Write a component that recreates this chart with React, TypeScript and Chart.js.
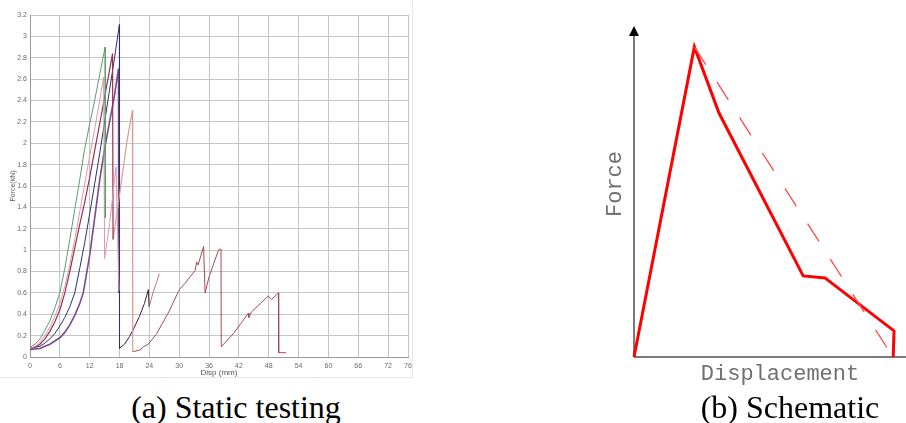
import React, { useEffect, useRef } from "react";
import { Chart, registerables } from "chart.js";
Chart.register(...registerables);

// ---------- (a) Static testing data ----------
const xTickValues = [0, 6, 12, 18, 24, 30, 36, 42, 48, 54, 60, 66, 72, 76];
const dispMax = 76;
const forceMax = 3.2;

const greenX = [0, 1, 2, 3, 4, 5, 6, 7, 8, 9, 10, 11, 12, 13, 14, 15.1, 15.15];
const greenY = [0.09, 0.12, 0.17, 0.25, 0.34, 0.46, 0.6, 0.83, 1.1, 1.38, 1.66, 1.95, 2.18, 2.4, 2.64, 2.9, 1.3];

const pinkX = [0, 1, 2, 3, 4, 5, 6, 7, 8, 9, 10, 11, 12, 13, 14, 14.8, 15.0, 16.0, 17.3, 17.9];
const pinkY = [0.08, 0.1, 0.14, 0.2, 0.28, 0.38, 0.5, 0.66, 0.86, 1.1, 1.36, 1.62, 1.88, 2.13, 2.4, 2.62, 0.92, 1.25, 1.78, 0.62];

const maroonX = [0, 1, 2, 3, 4, 5, 6, 7, 8, 9, 10, 11, 12, 13, 14, 15, 16.6, 16.7];
const maroonY = [0.08, 0.09, 0.12, 0.17, 0.24, 0.33, 0.44, 0.6, 0.8, 1.02, 1.24, 1.45, 1.68, 1.93, 2.18, 2.43, 2.84, 1.1];

const salmonX = [16.7, 17.5, 19.5, 20.6, 20.65];
const salmonY = [1.1, 1.35, 2.02, 2.31, 0.05];

const brownX = [20.65, 22.1, 22.8, 23.8, 25.5, 26.2, 28, 29.8, 30.2, 31.2, 32, 33.2, 33.5, 33.8, 34.9, 35.2, 36, 37.9, 38.4, 38.45, 40.9, 42.5, 43.9, 44.0, 44.5, 46.3, 47.9, 48.6, 49.96, 50.0, 51.5];
const brownY = [0.05, 0.065, 0.096, 0.12, 0.22, 0.28, 0.43, 0.61, 0.64, 0.69, 0.74, 0.81, 0.89, 0.86, 1.035, 0.6, 0.75, 1.0, 1.01, 0.096, 0.22, 0.32, 0.41, 0.37, 0.42, 0.5, 0.57, 0.54, 0.6, 0.04, 0.04];

const navyX = [0, 1, 2, 3, 4, 5, 6, 7, 8, 9, 10, 11, 12, 13, 14, 15, 16, 17, 17.97, 18.0];
const navyY = [0.08, 0.09, 0.1, 0.13, 0.17, 0.22, 0.29, 0.37, 0.47, 0.6, 0.83, 1.07, 1.34, 1.62, 1.9, 2.2, 2.5, 2.8, 3.11, 0.08];

const blackX = [17.95, 19, 20, 21, 22, 23, 23.8, 23.95];
const blackY = [0.08, 0.12, 0.19, 0.28, 0.38, 0.5, 0.63, 0.47];

const roseX = [23.95, 24.6, 26];
const roseY = [0.47, 0.58, 0.78];

const purpleX = [0, 1, 2, 3, 4, 5, 6, 7, 8, 9, 10, 10.7, 11, 12, 13, 14, 15, 16, 17, 17.8, 17.85];
const purpleY = [0.07, 0.075, 0.08, 0.1, 0.12, 0.15, 0.18, 0.23, 0.3, 0.39, 0.5, 0.6, 0.68, 0.95, 1.3, 1.65, 1.95, 2.2, 2.45, 2.7, 0.6];

const testSeries = [
  { label: "green", x: greenX, y: greenY, color: "#5a9e6a", w: 1 },
  { label: "pink", x: pinkX, y: pinkY, color: "#dd98a6", w: 1 },
  { label: "maroon", x: maroonX, y: maroonY, color: "#9b2f4f", w: 1.2 },
  { label: "salmon", x: salmonX, y: salmonY, color: "#dc9a96", w: 1.2 },
  { label: "brown", x: brownX, y: brownY, color: "#a44a55", w: 1 },
  { label: "navy", x: navyX, y: navyY, color: "#2d2f70", w: 1 },
  { label: "black", x: blackX, y: blackY, color: "#3a2030", w: 1 },
  { label: "rose", x: roseX, y: roseY, color: "#c27585", w: 1 },
  { label: "purple", x: purpleX, y: purpleY, color: "#7a4a8c", w: 1.6 },
];

// ---------- (b) Schematic data ----------
const schemX = [0, 2.22, 3.125, 6.22, 7.02, 9.56, 9.53];
const schemY = [0, 9.37, 7.37, 2.45, 2.39, 0.79, 0];
const dashX = [2.22, 9.52];
const dashY = [9.37, 0];

function StaticChart() {
  const ref = useRef<HTMLCanvasElement>(null);
  useEffect(() => {
    const chart = new Chart(ref.current!, {
      type: "scatter",
      data: {
        datasets: testSeries.map((s) => ({
          label: s.label,
          data: s.x.map((x, i) => ({ x, y: s.y[i] })),
          borderColor: s.color,
          backgroundColor: s.color,
          borderWidth: s.w,
          pointRadius: 0,
          showLine: true,
          fill: false,
          tension: 0,
        })),
      },
      options: {
        animation: false,
        responsive: false,
        maintainAspectRatio: false,
        layout: { padding: { left: 0, top: 15, right: 12, bottom: 0 } },
        plugins: { legend: { display: false }, tooltip: { enabled: false } },
        scales: {
          x: {
            type: "linear",
            min: 0,
            max: dispMax,
            afterBuildTicks: (s: any) => {
              s.ticks = xTickValues.map((v) => ({ value: v }));
            },
            afterFit: (s: any) => {
              s.height = 28;
            },
            grid: { color: "#c6c6c6", drawTicks: false },
            border: { color: "#9a9a9a" },
            ticks: {
              autoSkip: false,
              maxRotation: 0,
              padding: 5,
              color: "#6a6a6a",
              font: { size: 7, family: "Arial, 'Liberation Sans', sans-serif" },
              callback: (v: any) => String(v),
            },
            title: {
              display: true,
              text: "Disp (mm)",
              color: "#555",
              font: { size: 8, family: "Arial, 'Liberation Sans', sans-serif" },
              padding: { top: 0, bottom: 7 },
            },
          },
          y: {
            type: "linear",
            min: 0,
            max: forceMax,
            afterFit: (s: any) => {
              s.width = 30;
            },
            grid: { color: "#c6c6c6", drawTicks: false },
            border: { color: "#9a9a9a" },
            ticks: {
              stepSize: 0.2,
              padding: 3,
              color: "#6a6a6a",
              font: { size: 7, family: "Arial, 'Liberation Sans', sans-serif" },
              callback: (v: any) => String(Math.round(Number(v) * 10) / 10),
            },
            title: {
              display: true,
              text: "Force(kN)",
              color: "#555",
              font: { size: 7, family: "Arial, 'Liberation Sans', sans-serif" },
              padding: { top: 9, bottom: 0 },
            },
          },
        },
      },
    });
    return () => chart.destroy();
  }, []);
  return (
    <canvas
      ref={ref}
      width={420}
      height={385}
      style={{ position: "absolute", left: 0, top: 0, width: 420, height: 385 }}
    />
  );
}

const axesPlugin = {
  id: "schemAxes",
  beforeDatasetsDraw(chart: any) {
    const { ctx, chartArea } = chart;
    const { left, top, right, bottom } = chartArea;
    ctx.save();
    ctx.strokeStyle = "#7a7a7a";
    ctx.lineWidth = 2;
    ctx.beginPath();
    ctx.moveTo(left, bottom);
    ctx.lineTo(left, top + 6);
    ctx.moveTo(left, bottom);
    ctx.lineTo(right, bottom);
    ctx.stroke();
    ctx.fillStyle = "#000";
    ctx.beginPath();
    ctx.moveTo(left, top);
    ctx.lineTo(left - 5, top + 10);
    ctx.lineTo(left + 5, top + 10);
    ctx.closePath();
    ctx.fill();
    ctx.restore();
  },
};

function SchematicChart() {
  const ref = useRef<HTMLCanvasElement>(null);
  useEffect(() => {
    const chart = new Chart(ref.current!, {
      type: "scatter",
      data: {
        datasets: [
          {
            label: "dashed",
            data: dashX.map((x, i) => ({ x, y: dashY[i] })),
            borderColor: "#ff4a4a",
            borderWidth: 1.3,
            borderDash: [21, 21],
            pointRadius: 0,
            showLine: true,
            clip: false,
          } as any,
          {
            label: "schematic",
            data: schemX.map((x, i) => ({ x, y: schemY[i] })),
            borderColor: "#ff0000",
            borderWidth: 3,
            pointRadius: 0,
            showLine: true,
            clip: false,
          } as any,
        ],
      },
      options: {
        animation: false,
        responsive: false,
        maintainAspectRatio: false,
        layout: { padding: { left: 94, top: 26, right: 0, bottom: 66 } },
        plugins: { legend: { display: false }, tooltip: { enabled: false } },
        scales: {
          x: { type: "linear", min: 0, max: 10, display: false },
          y: { type: "linear", min: 0, max: 10, display: false },
        },
      },
      plugins: [axesPlugin],
    });
    return () => chart.destroy();
  }, []);
  return (
    <canvas
      ref={ref}
      width={366}
      height={423}
      style={{ position: "absolute", left: 540, top: 0, width: 366, height: 423 }}
    />
  );
}

export default function App() {
  const mono = "'Liberation Mono', 'Courier New', monospace";
  const serif = "'Liberation Serif', 'Times New Roman', serif";
  return (
    <div
      style={{
        position: "fixed",
        left: 0,
        top: 0,
        width: 906,
        height: 423,
        background: "#fff",
        overflow: "hidden",
      }}
    >
      <div
        style={{
          position: "absolute",
          left: 0,
          top: 0,
          width: 413,
          height: 378,
          borderRight: "1px solid #e6e6e6",
          borderBottom: "1px solid #e6e6e6",
          boxSizing: "border-box",
        }}
      />
      <StaticChart />
      <SchematicChart />
      <div
        style={{
          position: "absolute",
          left: 566,
          top: 173,
          width: 100,
          height: 22,
          lineHeight: "22px",
          fontFamily: mono,
          fontSize: 22,
          color: "#707070",
          textAlign: "center",
          transform: "rotate(-90deg)",
          whiteSpace: "nowrap",
        }}
      >
        Force
      </div>
      <div
        style={{
          position: "absolute",
          left: 680,
          top: 364,
          width: 200,
          height: 22,
          lineHeight: "22px",
          fontFamily: mono,
          fontSize: 22,
          color: "#707070",
          textAlign: "center",
          whiteSpace: "nowrap",
        }}
      >
        Displacement
      </div>
      <div
        style={{
          position: "absolute",
          left: 86,
          top: 391,
          width: 300,
          height: 32,
          lineHeight: "32px",
          fontFamily: serif,
          fontSize: 32,
          color: "#000",
          textAlign: "center",
          whiteSpace: "nowrap",
        }}
      >
        (a) Static testing
      </div>
      <div
        style={{
          position: "absolute",
          left: 640,
          top: 391,
          width: 300,
          height: 32,
          lineHeight: "32px",
          fontFamily: serif,
          fontSize: 32,
          color: "#000",
          textAlign: "center",
          whiteSpace: "nowrap",
        }}
      >
        (b) Schematic
      </div>
    </div>
  );
}
